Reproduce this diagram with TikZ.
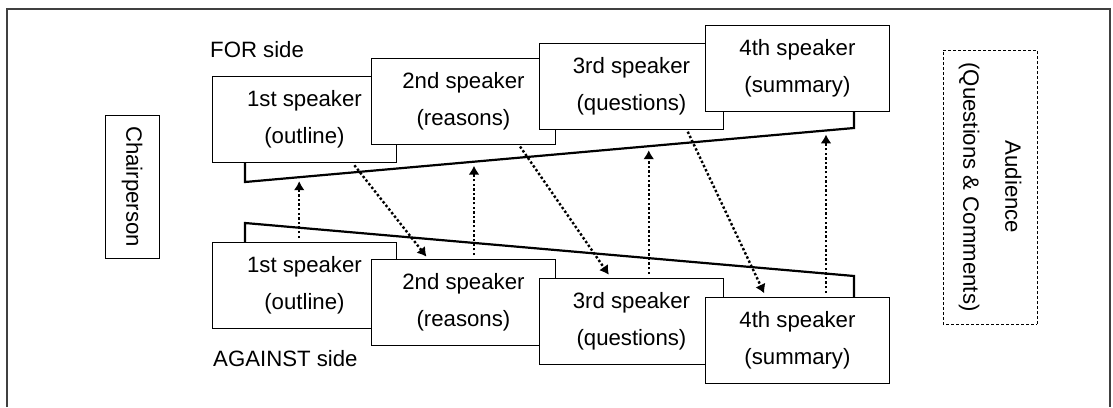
\documentclass[tikz,border=0pt]{standalone}
\usepackage{fontspec}
\setmainfont{Liberation Sans}
\usetikzlibrary{arrows.meta,calc}

\tikzset{
    spk/.style={rectangle, draw, fill=white, line width=0.9pt, minimum width=184pt, minimum height=86pt,
        inner sep=0pt, anchor=north west, align=center, font=\fontsize{22.2}{37}\selectfont},
    sidelbl/.style={anchor=west, inner sep=0pt, font=\fontsize{22.2}{26}\selectfont},
    bracket/.style={line width=2.2pt},
    link/.style={line width=2.4pt, dash pattern=on 2.4pt off 2.2pt, -{Latex[length=9pt,width=11pt]}},
}

\begin{document}
\begin{tikzpicture}[x=1pt,y=-1pt]
    \useasboundingbox (0,0) rectangle (1113,407);
    \draw[line width=1.3pt, black!75] (7,407) -- (7,9) -- (1110,9) -- (1110,407);

    \node[sidelbl] (forlbl) at (210,50) {FOR side};
    \node[sidelbl] (aglbl) at (213,359) {AGAINST side};

    \coordinate (forL) at (245,182);
    \coordinate (forR) at (854,128);
    \coordinate (agL) at (245,223);
    \coordinate (agR) at (854,276);

    \node[spk] (f1) at (212,76) {1st speaker\\(outline)};
    \node[spk] (f2) at (371,58) {2nd speaker\\(reasons)};
    \node[spk] (f3) at (539,43) {3rd speaker\\(questions)};
    \node[spk] (f4) at (705,25) {4th speaker\\(summary)};

    \node[spk] (a1) at (212,242) {1st speaker\\(outline)};
    \node[spk] (a2) at (371,259) {2nd speaker\\(reasons)};
    \node[spk] (a3) at (539,278) {3rd speaker\\(questions)};
    \node[spk] (a4) at (705,297) {4th speaker\\(summary)};

    \draw[bracket] (f1.south -| forL) -- (forL) -- (forR) -- (f4.south -| forR);
    \draw[bracket] (a1.north -| agL) -- (agL) -- (agR) -- (a4.north -| agR);

    \node[draw, line width=0.9pt, rotate=-90, minimum width=143pt, minimum height=54pt, inner sep=0pt,
        font=\fontsize{22.2}{26}\selectfont] (chair) at (132,186.5) {Chairperson};
    \node[draw, line width=0.9pt, dash pattern=on 3pt off 2pt, rotate=-90, minimum width=274pt, minimum height=94pt,
        inner sep=0pt, align=center, font=\fontsize{22.2}{42}\selectfont] (aud) at (990,187) {Audience\\(Questions \& Comments)};

    \coordinate (u1) at ($(forL)!0.089!(forR)$);
    \coordinate (u2) at ($(forL)!0.376!(forR)$);
    \coordinate (u3) at ($(forL)!0.663!(forR)$);
    \coordinate (u4) at ($(forL)!0.954!(forR)$);
    \draw[link, shorten <=4pt, shorten >=4pt] (a1.north -| u1) -- (u1);
    \draw[link, shorten <=4pt, shorten >=4pt] (a2.north -| u2) -- (u2);
    \draw[link, shorten <=4pt, shorten >=4pt] (a3.north -| u3) -- (u3);
    \draw[link, shorten <=4pt, shorten >=4pt] (a4.north -| u4) -- (u4);

    \draw[link, shorten <=3pt, shorten >=3pt] ($(f1.south west)!0.76!(f1.south east)$) -- ($(a2.north west)!0.31!(a2.north east)$);
    \draw[link, shorten <=2pt, shorten >=4pt] ($(f2.south west)!0.80!(f2.south east)$) -- ($(a3.north west)!0.39!(a3.north east)$);
    \draw[link, shorten <=2pt, shorten >=4pt] ($(f3.south west)!0.80!(f3.south east)$) -- ($(a4.north west)!0.33!(a4.north east)$);
\end{tikzpicture}
\end{document}
